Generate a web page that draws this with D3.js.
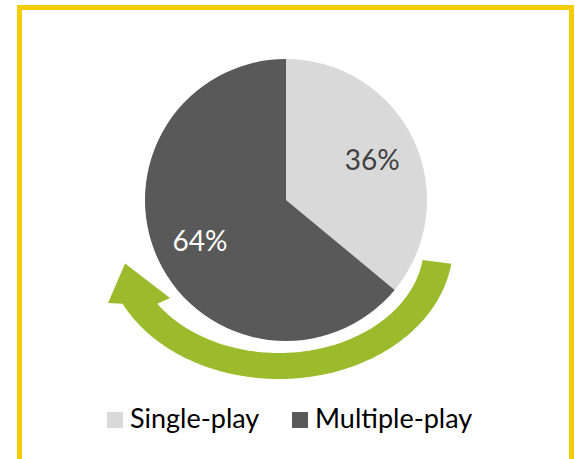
<!DOCTYPE html>
<html>
<head>
<meta charset="utf-8">
<script src="https://cdn.jsdelivr.net/npm/d3@7"></script>
<style>
  html, body { margin: 0; padding: 0; background: #ffffff; }
  svg { display: block; }
  text { font-family: Lato, "Open Sans", sans-serif; }
</style>
</head>
<body>
<svg id="chart" width="575" height="459"></svg>
<script>
// Customer base split by subscription type
const categories = ["Single-play", "Multiple-play"];
const shares = [36, 64];
const sliceColors = ["#D9D9D9", "#595959"];
const labelColors = ["#404040", "#FFFFFF"];

const width = 575, height = 459;
const svg = d3.select("#chart");

// Yellow frame
svg.append("rect")
  .attr("x", 19.5).attr("y", 7.5)
  .attr("width", 552).attr("height", 455)
  .attr("fill", "#ffffff")
  .attr("stroke", "#F4CD00")
  .attr("stroke-width", 5);

const cx = 286, cy = 200, R = 141;
const g = svg.append("g").attr("transform", `translate(${cx},${cy})`);

const pie = d3.pie().sort(null).value(d => d);
const arcs = pie(shares);
const arc = d3.arc().innerRadius(0).outerRadius(R);
const labelArc = d3.arc().innerRadius(R * 0.675).outerRadius(R * 0.675);

g.selectAll("path.slice")
  .data(arcs)
  .join("path")
  .attr("class", "slice")
  .attr("d", arc)
  .attr("fill", (d, i) => sliceColors[i]);

// Curved green arrow sweeping under the pie (elliptical band)
const ex = cx - 7, ey = cy + 45;
const outer = { rx: 174, ry: 134 }, inner = { rx: 145, ry: 108 }, mid = { rx: 159.5, ry: 121 };
const rad = a => a * Math.PI / 180;
const onEllipse = (e, t, k = 1) => [ex + k * e.rx * Math.cos(rad(t)), ey + k * e.ry * Math.sin(rad(t))];

const pts = [];
d3.range(8, 154.01, 1).forEach(t => pts.push(onEllipse(outer, t)));
pts.push(onEllipse(mid, 155.9, 1.174));   // outer corner of head
pts.push(onEllipse(mid, 171, 0.977));     // tip
pts.push(onEllipse(mid, 147.3, 0.812));   // inner corner of head
d3.range(147, 7.99, -1).forEach(t => pts.push(onEllipse(inner, t)));

svg.append("path")
  .attr("d", d3.line()(pts) + "Z")
  .attr("fill", "#9BBB2D")
  .attr("stroke", "#ffffff")
  .attr("stroke-width", 6)
  .attr("stroke-linejoin", "round")
  .style("paint-order", "stroke");

// Percentage labels
g.selectAll("text.pct")
  .data(arcs)
  .join("text")
  .attr("class", "pct")
  .attr("transform", d => `translate(${labelArc.centroid(d)})`)
  .attr("text-anchor", "middle")
  .attr("dy", "0.36em")
  .attr("font-size", 28)
  .attr("fill", (d, i) => labelColors[i])
  .text(d => d.data + "%");

// Legend
const legendX = [107, 292];
const legend = svg.append("g");
categories.forEach((c, i) => {
  legend.append("rect")
    .attr("x", legendX[i]).attr("y", 412)
    .attr("width", 16).attr("height", 16)
    .attr("fill", sliceColors[i]);
  legend.append("text")
    .attr("x", legendX[i] + 23).attr("y", 428)
    .attr("font-size", 27)
    .attr("fill", "#000000")
    .text(c);
});
</script>
</body>
</html>
